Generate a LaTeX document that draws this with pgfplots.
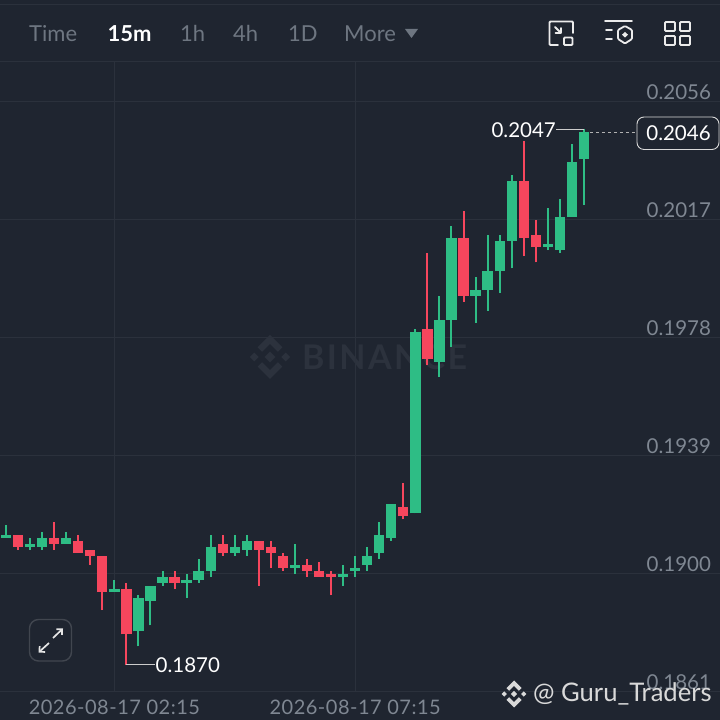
\documentclass[border=0pt]{standalone}
\usepackage{fontspec}
\setmainfont{Lato}
\usepackage{pgfplots}
\usepackage{pgfplotstable}
\pgfplotsset{compat=1.18}
\usetikzlibrary{arrows.meta}

\definecolor{bg}{HTML}{1F2530}
\definecolor{gridc}{HTML}{2B313C}
\definecolor{upc}{HTML}{2EBD85}
\definecolor{downc}{HTML}{F6465D}
\definecolor{axisgray}{HTML}{7F8792}
\definecolor{tabgray}{HTML}{6E7681}
\definecolor{wmark}{HTML}{2C323D}

% i open high low close, 15m candles
\pgfplotstableread{
i  open   high   low    close
0  0.1912 0.1916 0.1912 0.1913
2  0.1909 0.1912 0.1908 0.1910
3  0.1909 0.1914 0.1908 0.1912
5  0.1910 0.1914 0.1910 0.1912
9  0.1894 0.1898 0.1894 0.1895
11 0.1881 0.1893 0.1876 0.1892
12 0.1891 0.1896 0.1883 0.1896
13 0.1897 0.1901 0.1896 0.1899
15 0.1897 0.1900 0.1892 0.1898
16 0.1898 0.1905 0.1897 0.1901
17 0.1901 0.1913 0.1899 0.1909
19 0.1907 0.1913 0.1906 0.1909
20 0.1908 0.1913 0.1906 0.1911
24 0.1902 0.1910 0.1900 0.1903
28 0.1899 0.1903 0.1896 0.1900
29 0.1901 0.1906 0.1899 0.1902
30 0.1903 0.1909 0.1901 0.1906
31 0.1907 0.1917 0.1905 0.1913
32 0.1912 0.1923 0.1911 0.1923
34 0.1920 0.1981 0.1920 0.1980
36 0.1970 0.1992 0.1965 0.1984
37 0.1984 0.2015 0.1975 0.2011
39 0.1992 0.1998 0.1983 0.1994
40 0.1994 0.2012 0.1987 0.2000
41 0.2000 0.2012 0.1993 0.2010
42 0.2010 0.2032 0.2001 0.2030
45 0.2008 0.2021 0.2007 0.2009
46 0.2007 0.2024 0.2006 0.2018
47 0.2018 0.2042 0.2018 0.2036
48 0.2037 0.2047 0.2022 0.2046
}\upcandles
\pgfplotstableread{
i  open   high   low    close
1  0.1913 0.1913 0.1908 0.1909
4  0.1912 0.1917 0.1908 0.1910
6  0.1911 0.1913 0.1907 0.1907
7  0.1908 0.1908 0.1903 0.1906
8  0.1906 0.1906 0.1888 0.1894
10 0.1895 0.1897 0.1870 0.1880
14 0.1899 0.1901 0.1895 0.1897
18 0.1910 0.1913 0.1906 0.1907
21 0.1911 0.1911 0.1896 0.1908
22 0.1909 0.1911 0.1902 0.1907
23 0.1906 0.1907 0.1901 0.1902
25 0.1903 0.1905 0.1899 0.1901
26 0.1901 0.1904 0.1899 0.1899
27 0.1900 0.1901 0.1893 0.1899
33 0.1922 0.1930 0.1918 0.1919
35 0.1981 0.2006 0.1969 0.1971
38 0.2011 0.2020 0.1990 0.1992
43 0.2030 0.2043 0.2005 0.2011
44 0.2012 0.2017 0.2003 0.2008
}\downcandles

% wick = low to high, body = min(open,close) to max(open,close)
\newcommand{\candles}[4]{%
  \addplot[draw=none, forget plot, error bars/.cd, y dir=plus, y explicit, error mark=none,
    error bar style={solid, draw=#2, line width=2pt}]
    table[x=i, y=low, y error plus expr=\thisrow{high}-\thisrow{low}] {#1};
  \addplot[draw=none, forget plot, error bars/.cd, y dir=plus, y explicit, error mark=none,
    error bar style={solid, draw=#2, line width=10.3pt}]
    table[x=i, y=#3, y error plus expr=\thisrow{#4}-\thisrow{#3}] {#1};
}

\newcommand{\binlogo}[4]{% cx cy radius colour
  \begin{scope}[shift={(#1,#2)}, scale=#3, x=1pt, y=1pt]
    \fill[#4] (0,.24)--(.24,0)--(0,-.24)--(-.24,0)--cycle;
    \fill[#4] (.72,.2)--(.92,0)--(.72,-.2)--(.52,0)--cycle;
    \fill[#4] (-.72,.2)--(-.92,0)--(-.72,-.2)--(-.52,0)--cycle;
    \fill[#4] (0,1)--(.56,.44)--(.36,.24)--(0,.6)--(-.36,.24)--(-.56,.44)--cycle;
    \fill[#4] (0,-1)--(.56,-.44)--(.36,-.24)--(0,-.6)--(-.36,-.24)--(-.56,-.44)--cycle;
  \end{scope}}

\begin{document}
\begin{tikzpicture}
\useasboundingbox (0,0) rectangle (720pt,720pt);
\fill[bg] (0,0) rectangle (720pt,720pt);

% watermark sits under the candles
\begin{scope}[shift={(0,720pt)}, x=1pt, y=-1pt]
  \binlogo{270}{357}{22}{wmark}
  \node[anchor=west, inner sep=0pt, text=wmark, font=\fontsize{34}{34}\selectfont\bfseries\addfontfeature{LetterSpace=7}] at (302,357) {BINANCE};
\end{scope}

\begin{axis}[
  at={(0,0)}, anchor=south west,
  width=720pt, height=720pt, scale only axis,
  xmin=-0.4983, xmax=59.302,
  ymin=0.18517, ymax=0.20897,
  axis line style={draw=none},
  major tick length=0pt,
  scaled y ticks=false,
  clip=false,
  xtick={9,29},
  xticklabels={2026-08-17 02:15,2026-08-17 07:15},
  xticklabel style={text=axisgray, font=\fontsize{20}{20}\selectfont\addfontfeature{LetterSpace=2.5}, anchor=center, yshift=13pt},
  ytick={0.1861,0.1900,0.1939,0.1978,0.2017,0.2056},
  yticklabel pos=right,
  yticklabel style={text=axisgray, font=\fontsize{20.5}{20.5}\selectfont, anchor=south east, xshift=-5.5pt, yshift=-1.5pt,
    /pgf/number format/.cd, fixed, fixed zerofill, precision=4, assume math mode=true},
  ymajorgrids,
  grid style={gridc, line width=1pt},
]
% the two vertical time lines
\addplot[gridc, line width=1pt, forget plot] coordinates {(9,0.1861) (9,0.2071)};
\addplot[gridc, line width=1pt, forget plot] coordinates {(29,0.1861) (29,0.2071)};

\candles{\upcandles}{upc}{open}{close}
\candles{\downcandles}{downc}{close}{open}

% high / low call-outs and last price
\draw[white!80!black, line width=.8pt] (axis cs:48,0.2047) -- (axis cs:45.7,0.2047)
  node[anchor=east, text=white, inner sep=0pt, font=\fontsize{20.5}{20.5}\selectfont, yshift=-1pt] {0.2047};
\draw[white!80!black, line width=.8pt] (axis cs:10,0.1870) -- (axis cs:12.4,0.1870)
  node[anchor=west, text=white, inner sep=0pt, font=\fontsize{20.5}{20.5}\selectfont, yshift=-1pt] {0.1870};
\draw[white!70!black, line width=.8pt, dash pattern=on 3pt off 3pt] (axis cs:48.5,0.2046) -- (axis cs:52.4,0.2046);
\end{axis}

\begin{scope}[shift={(0,720pt)}, x=1pt, y=-1pt]
  % price tag
  \draw[white!85!black, fill=bg, line width=.9pt, rounded corners=7pt] (637,117) rectangle (719,149.5);
  \node[text=white, inner sep=0pt, font=\fontsize{20.5}{20.5}\selectfont] at (678.5,133.5) {0.2046};

  % toolbar
  \fill[bg] (0,0) rectangle (720,61);
  \draw[gridc, line width=1.2pt] (0,4.5) -- (720,4.5);
  \draw[gridc, line width=1.6pt] (0,61.5) -- (720,61.5);
  \begin{scope}[font=\fontsize{22}{22}\selectfont, text=tabgray, inner sep=0pt]
    \node[anchor=west] at (29,33.5) {Time};
    \node[anchor=west, text=white, font=\fontsize{22}{22}\selectfont\bfseries] at (107.5,33.5) {15m};
    \node[anchor=west] at (180,33.5) {1h};
    \node[anchor=west] at (233,33.5) {4h};
    \node[anchor=west] at (288,33.5) {1D};
    \node[anchor=west] at (344,33.5) {More};
  \end{scope}
  \fill[tabgray] (405,29) -- (418,29) -- (411.5,38) -- cycle;

  % icon: small window
  \begin{scope}[draw=white!92!black, line width=1.8pt, line cap=round, rounded corners=1pt]
    \draw (558,45) -- (549.5,45) -- (549.5,21.5) -- (573,21.5) -- (573,33);
    \draw (564,37.5) rectangle (572.5,45);
    \draw (555,27) -- (561,33);
    \draw (555.5,33) -- (561,33) -- (561,28);
  % icon: list with hexagon
    \draw (605,21) -- (632,21);
    \draw (606,30) -- (612,30);
    \draw (606,39) -- (612,39);
    \draw (625,26) -- (632,30) -- (632,39) -- (625,43.5) -- (618,39) -- (618,30) -- cycle;
  % icon: four squares
    \draw (665,22) rectangle (675,31);
    \draw (680,22) rectangle (690,31);
    \draw (665,36) rectangle (675,45);
    \draw (680,36) rectangle (690,45);
  \end{scope}
  \fill[white!92!black] (625,32) -- (628,34.7) -- (625,37.5) -- (622,34.7) -- cycle;

  % expand button
  \draw[white!15!bg, line width=1.4pt, rounded corners=9pt] (29.5,619.5) rectangle (71.5,661);
  \draw[white!90!black, line width=1.7pt, -{Straight Barb[length=4pt,width=8pt]}] (49,643) -- (38.5,652.5);
  \draw[white!90!black, line width=1.7pt, -{Straight Barb[length=4pt,width=8pt]}] (53,638) -- (63,628.5);

  % corner credit
  \binlogo{514}{694}{13.5}{white!85!black}
  \node[anchor=west, inner sep=0pt, text=white!85!black, font=\fontsize{25.6}{25.6}\selectfont] at (533,694) {@ Guru\_Traders};
\end{scope}
\end{tikzpicture}
\end{document}
